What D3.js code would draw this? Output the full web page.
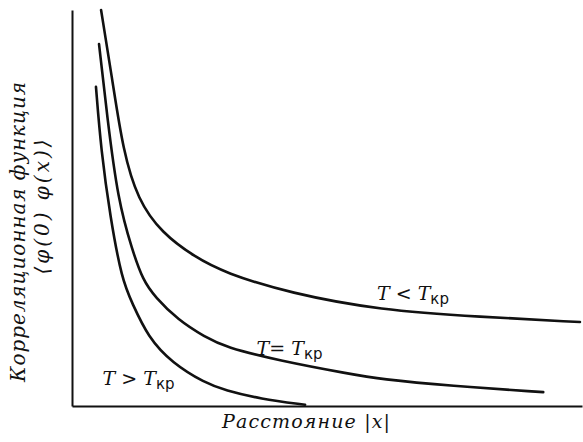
<!DOCTYPE html>
<html>
<head>
<meta charset="utf-8">
<script src="https://cdn.jsdelivr.net/npm/d3@7"></script>
<style>
  body { margin: 0; background: #fff; }
  svg { display: block; }
  .lbl { font-family: "DejaVu Serif", serif; font-style: italic; fill: #111; }
</style>
</head>
<body>
<svg id="chart" width="583" height="442"></svg>
<script>
// distance |x| (arbitrary units) and correlation <phi(0)phi(x)>
const distBelow = [0.57, 0.80, 1.00, 1.29, 1.76, 2.41, 3.00, 4.27, 6.04, 8.00, 9.96];
const corrBelow = [10.0, 8.16, 6.46, 5.20, 4.37, 3.76, 3.36, 2.85, 2.42, 2.25, 2.12];

const distCrit = [0.53, 0.69, 0.90, 1.18, 1.39, 1.63, 2.08, 2.61, 3.00, 4.08, 5.45, 6.04, 7.41, 9.24];
const corrCrit = [9.14, 7.30, 5.20, 3.94, 3.18, 2.75, 2.17, 1.74, 1.49, 1.14, 0.81, 0.68, 0.51, 0.35];

const distAbove = [0.47, 0.57, 0.75, 0.98, 1.18, 1.49, 1.96, 2.61, 3.00, 3.69, 4.57];
const corrAbove = [8.06, 6.46, 4.77, 3.18, 2.60, 1.74, 1.09, 0.58, 0.40, 0.18, 0.03];

const xLabel = 'Расстояние |x|';
const yLabel = 'Корреляционная функция';
const yFormula = '⟨φ(0) φ(x)⟩';

const svg = d3.select('#chart');
const margin = {top: 10, right: 1, bottom: 36, left: 72};
const width = 583, height = 442;

const x = d3.scaleLinear().domain([0, 10]).range([margin.left, width - margin.right]);
const y = d3.scaleLinear().domain([0, 10]).range([height - margin.bottom, margin.top]);

// bare axes, no ticks
svg.append('g')
  .attr('transform', `translate(0,${y(0)})`)
  .call(d3.axisBottom(x).tickValues([]).tickSizeOuter(0))
  .select('.domain').attr('stroke', '#111').attr('stroke-width', 2);

svg.append('g')
  .attr('transform', `translate(${x(0)},0)`)
  .call(d3.axisLeft(y).tickValues([]).tickSizeOuter(0))
  .select('.domain').attr('stroke', '#111').attr('stroke-width', 2);

const line = d3.line()
  .x(d => x(d[0]))
  .y(d => y(d[1]))
  .curve(d3.curveBasis);

const curves = [
  d3.zip(distBelow, corrBelow),
  d3.zip(distCrit, corrCrit),
  d3.zip(distAbove, corrAbove),
];

svg.append('g')
  .selectAll('path')
  .data(curves)
  .join('path')
  .attr('fill', 'none')
  .attr('stroke', '#111')
  .attr('stroke-width', 2.6)
  .attr('stroke-linecap', 'round')
  .attr('d', line);

// curve labels: T <op> T_kp
const curveLabels = [
  {op: '<', at: [5.98, 2.68]},
  {op: '=', at: [3.62, 1.29]},
  {op: '>', at: [0.60, 0.53]},
];

curveLabels.forEach(c => {
  const t = svg.append('text')
    .attr('class', 'lbl')
    .attr('x', x(c.at[0]))
    .attr('y', y(c.at[1]))
    .attr('font-size', 19);
  t.append('tspan').text('T');
  t.append('tspan').text(c.op === '=' ? '= ' : ` ${c.op} `).attr('font-style', 'normal');
  t.append('tspan').text('T');
  t.append('tspan')
    .text('кр')
    .attr('dy', 4)
    .attr('font-size', 15)
    .attr('font-style', 'normal')
    .attr('font-family', 'DejaVu Sans, sans-serif');
});

svg.append('text')
  .attr('class', 'lbl')
  .attr('x', 306)
  .attr('y', 428)
  .attr('text-anchor', 'middle')
  .attr('font-size', 19)
  .attr('textLength', 168)
  .text(xLabel);

svg.append('text')
  .attr('class', 'lbl')
  .attr('transform', 'translate(25,232) rotate(-90)')
  .attr('text-anchor', 'middle')
  .attr('font-size', 20)
  .attr('textLength', 300)
  .text(yLabel);

svg.append('text')
  .attr('class', 'lbl')
  .attr('transform', 'translate(49,207) rotate(-90)')
  .attr('text-anchor', 'middle')
  .attr('font-size', 20)
  .attr('textLength', 135)
  .text(yFormula);
</script>
</body>
</html>
